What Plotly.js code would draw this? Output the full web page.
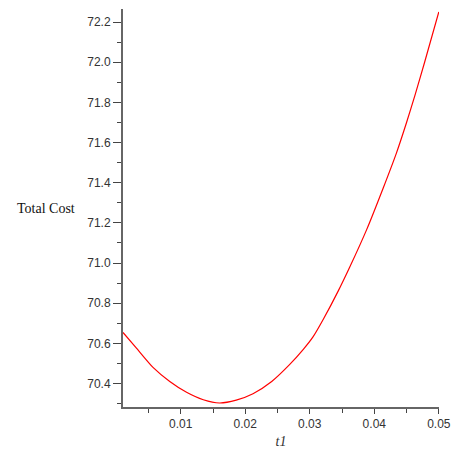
<!DOCTYPE html>
<html>
<head>
<meta charset="utf-8">
<script src="https://cdn.plot.ly/plotly-3.0.1.min.js"></script>
<style>html,body{margin:0;padding:0;background:#fff;}#plot{width:451px;height:450px;}</style>
</head>
<body>
<div id="plot"></div>
<script>
const t1 = [0.00105, 0.0031, 0.0057, 0.0083, 0.0109, 0.0135, 0.0160, 0.0186, 0.0212, 0.0241, 0.0269, 0.0290, 0.0305, 0.0321, 0.0344, 0.0362, 0.0388, 0.0414, 0.0434, 0.0450, 0.0463, 0.0478, 0.0500];
const totalCost = [70.654, 70.577, 70.480, 70.410, 70.356, 70.319, 70.303, 70.317, 70.349, 70.410, 70.495, 70.570, 70.632, 70.720, 70.860, 70.980, 71.165, 71.375, 71.545, 71.700, 71.835, 72.000, 72.250];
const xTicks = [0.01, 0.02, 0.03, 0.04, 0.05];
const xTickText = ["0.01", "0.02", "0.03", "0.04", "0.05"];
const yTicks = [70.4, 70.6, 70.8, 71.0, 71.2, 71.4, 71.6, 71.8, 72.0, 72.2];
const yTickText = ["70.4", "70.6", "70.8", "71.0", "71.2", "71.4", "71.6", "71.8", "72.0", "72.2"];

const trace = {
  x: t1, y: totalCost, type: 'scatter', mode: 'lines',
  line: {color: '#ff0000', width: 1.2, shape: 'spline', smoothing: 0.6},
  hoverinfo: 'skip', cliponaxis: false
};
const layout = {
  width: 451, height: 450,
  margin: {l: 123, r: 12, t: 9, b: 43},
  paper_bgcolor: '#ffffff', plot_bgcolor: '#ffffff',
  showlegend: false,
  font: {family: 'Liberation Sans, Arial, sans-serif', size: 12, color: '#333333'},
  xaxis: {
    range: [0.00105, 0.05003], showgrid: false, zeroline: false,
    showline: true, linecolor: '#666666', linewidth: 2,
    ticks: 'outside', ticklen: 5, tickwidth: 1, tickcolor: '#444444',
    tickmode: 'array', tickvals: xTicks, ticktext: xTickText,
    minor: {ticks: 'outside', ticklen: 4, tickwidth: 1, tickcolor: '#444444', dtick: 0.005, tick0: 0, showgrid: false},
    tickfont: {family: 'Liberation Sans, Arial, sans-serif', size: 12, color: '#333333'},
    title: {text: 't1', font: {family: 'Liberation Serif, Times New Roman, serif', size: 14, color: '#333333', style: 'italic'}, standoff: 6}
  },
  yaxis: {
    range: [70.283, 72.265], showgrid: false, zeroline: false,
    showline: true, linecolor: '#666666', linewidth: 2,
    ticks: 'outside', ticklen: 8, tickwidth: 1, tickcolor: '#444444',
    tickmode: 'array', tickvals: yTicks, ticktext: yTickText,
    minor: {ticks: 'outside', ticklen: 4, tickwidth: 1, tickcolor: '#444444', dtick: 0.1, tick0: 70.0, showgrid: false},
    tickfont: {family: 'Liberation Sans, Arial, sans-serif', size: 12, color: '#333333'}
  },
  annotations: [{
    text: 'Total Cost', xref: 'paper', yref: 'paper', x: -0.145, y: 0.5,
    xanchor: 'right', yanchor: 'middle', showarrow: false,
    font: {family: 'Liberation Serif, Times New Roman, serif', size: 14, color: '#111111'}
  }]
};
Plotly.newPlot('plot', [trace], layout, {staticPlot: true, displayModeBar: false});
</script>
</body>
</html>
